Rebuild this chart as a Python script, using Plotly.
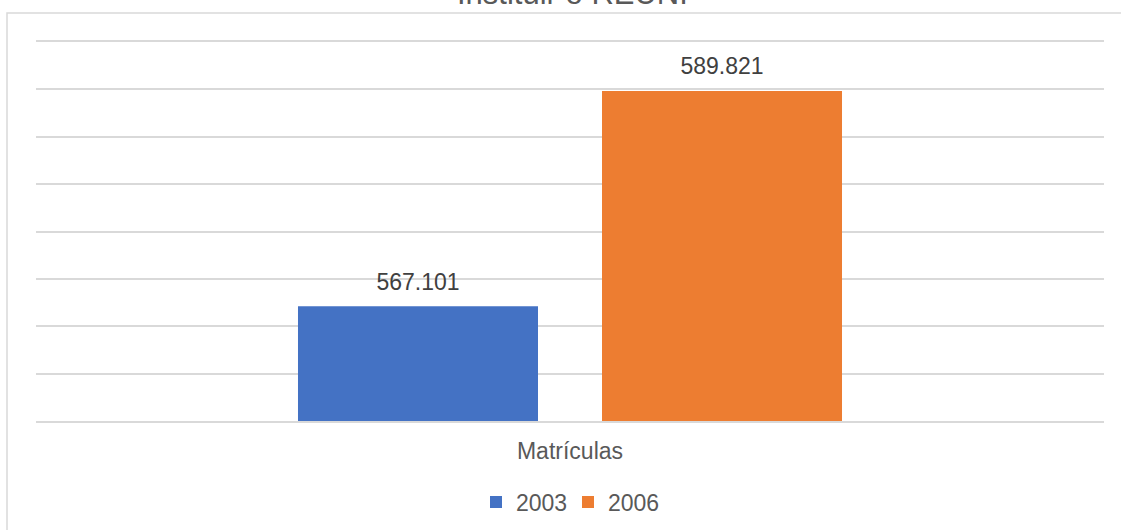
import plotly.graph_objects as go

# Enrolment figures (matrículas) before REUNI
category = ["Matrículas"]
years = ["2003", "2006"]
enrolments = [567101, 589821]
colors = ["#4472C4", "#ED7D31"]

def fmt_br(v):
    return f"{v:,}".replace(",", ".")

fig = go.Figure()
for year, val, col in zip(years, enrolments, colors):
    fig.add_trace(go.Bar(
        name=year,
        x=category,
        y=[val],
        marker=dict(color=col, line=dict(width=0)),
        hoverinfo="name+y",
    ))

# Value labels sit a little above each bar, grouped like the bars
for year, val in zip(years, enrolments):
    fig.add_trace(go.Scatter(
        x=category,
        y=[val],
        mode="markers+text",
        orientation="v",
        marker=dict(size=16, color="rgba(0,0,0,0)"),
        text=[fmt_br(val)],
        textposition="top center",
        textfont=dict(size=23, color="#404040"),
        showlegend=False,
        hoverinfo="skip",
        cliponaxis=False,
    ))

grid = "#d9d9d9"
fig.update_layout(
    width=1121,
    height=530,
    barmode="group",
    bargap=0.4307,
    bargroupgap=0.2105,
    scattermode="group",
    scattergap=0.4307,
    plot_bgcolor="white",
    paper_bgcolor="white",
    font=dict(family="Arial, Liberation Sans, sans-serif", color="#595959", size=23),
    margin=dict(l=36, r=17, t=42, b=109, autoexpand=False),
    xaxis=dict(
        range=[-0.5, 0.5],
        showline=True,
        mirror=True,
        linecolor=grid,
        linewidth=1.5,
        showgrid=False,
        ticks="",
        ticklabelstandoff=9,
        tickfont=dict(size=23, color="#595959"),
    ),
    yaxis=dict(
        range=[555000, 595000],
        dtick=5000,
        showgrid=True,
        gridcolor=grid,
        gridwidth=1.5,
        showticklabels=False,
        ticks="",
        zeroline=False,
        showline=False,
    ),
    legend=dict(
        orientation="h",
        xref="container",
        yref="container",
        x=568 / 1121,
        xanchor="center",
        y=(530 - 502) / 530,
        yanchor="middle",
        font=dict(size=23, color="#595959"),
        bgcolor="rgba(0,0,0,0)",
        entrywidth=47,
        entrywidthmode="pixels",
    ),
    showlegend=True,
    annotations=[
        dict(
            text="Instituir o REUNI",
            xref="paper", yref="paper",
            x=(572 - 36) / 1068,
            y=(421 + 7) / 379,
            xanchor="center",
            yanchor="middle",
            showarrow=False,
            font=dict(size=31, color="#595959"),
        )
    ],
    shapes=[
        dict(
            type="rect",
            xref="paper", yref="paper",
            x0=(7 - 36) / 1068, x1=(1130 - 36) / 1068,
            y0=(421 - 540) / 379, y1=(421 - 13) / 379,
            line=dict(color=grid, width=1.5),
            fillcolor="rgba(0,0,0,0)",
            layer="below",
        )
    ],
)

fig.write_html("out.html")
